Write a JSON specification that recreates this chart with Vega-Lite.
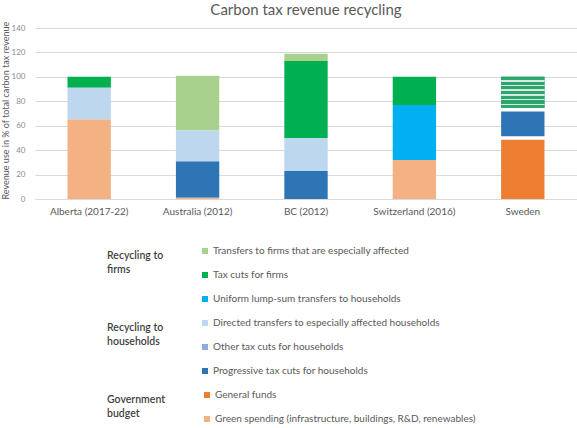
{
  "$schema": "https://vega.github.io/schema/vega-lite/v6.json",
  "width": 542,
  "height": 171,
  "autosize": {"type": "none"},
  "padding": {"left": 35, "top": 28, "right": 0, "bottom": 229},
  "background": "white",
  "config": {
    "view": {"stroke": null},
    "font": "Lato",
    "legend": {
      "orient": "none",
      "titleOrient": "left",
      "titleAnchor": "middle",
      "titleAlign": "left",
      "titleFont": "Lato",
      "titleFontSize": 10.5,
      "titleFontWeight": 600,
      "titleColor": "#3f3f3f",
      "titlePadding": 36,
      "titleLineHeight": 14,
      "labelFont": "Lato",
      "labelFontSize": 10,
      "labelColor": "#595959",
      "labelOffset": 3,
      "labelLimit": 400,
      "symbolType": "square",
      "symbolSize": 36,
      "symbolStrokeWidth": 0,
      "rowPadding": 14
    }
  },
  "title": {
    "text": "Carbon tax revenue recycling",
    "font": "Lato",
    "fontSize": 15,
    "fontWeight": "normal",
    "color": "#595959",
    "anchor": "middle",
    "offset": 3
  },
  "data": {
    "values": [
      {"country": "Alberta (2017-22)", "category": "Green spending (infrastructure, buildings, R&D, renewables)", "group": "budget", "rank": 1, "value": 65},
      {"country": "Alberta (2017-22)", "category": "Directed transfers to especially affected households", "group": "households", "rank": 5, "value": 26},
      {"country": "Alberta (2017-22)", "category": "Tax cuts for firms", "group": "firms", "rank": 7, "value": 9},
      {"country": "Australia (2012)", "category": "Green spending (infrastructure, buildings, R&D, renewables)", "group": "budget", "rank": 1, "value": 1},
      {"country": "Australia (2012)", "category": "Progressive tax cuts for households", "group": "households", "rank": 3, "value": 30},
      {"country": "Australia (2012)", "category": "Directed transfers to especially affected households", "group": "households", "rank": 5, "value": 25},
      {"country": "Australia (2012)", "category": "Transfers to firms that are especially affected", "group": "firms", "rank": 8, "value": 45},
      {"country": "BC (2012)", "category": "Progressive tax cuts for households", "group": "households", "rank": 3, "value": 23},
      {"country": "BC (2012)", "category": "Directed transfers to especially affected households", "group": "households", "rank": 5, "value": 27},
      {"country": "BC (2012)", "category": "Tax cuts for firms", "group": "firms", "rank": 7, "value": 63},
      {"country": "BC (2012)", "category": "Transfers to firms that are especially affected", "group": "firms", "rank": 8, "value": 6},
      {"country": "Switzerland (2016)", "category": "Green spending (infrastructure, buildings, R&D, renewables)", "group": "budget", "rank": 1, "value": 32},
      {"country": "Switzerland (2016)", "category": "Uniform lump-sum transfers to households", "group": "households", "rank": 6, "value": 45},
      {"country": "Switzerland (2016)", "category": "Tax cuts for firms", "group": "firms", "rank": 7, "value": 23},
      {"country": "Sweden", "category": "General funds", "group": "budget", "rank": 2, "value": 50},
      {"country": "Sweden", "category": "Progressive tax cuts for households", "group": "households", "rank": 3, "value": 23},
      {"country": "Sweden", "category": "Tax cuts for firms", "group": "firms", "rank": 7, "value": 27}
    ]
  },
  "transform": [
    {"stack": "value", "groupby": ["country"], "sort": [{"field": "rank", "order": "ascending"}], "as": ["y0", "y1"]}
  ],
  "encoding": {
    "x": {
      "field": "country",
      "type": "nominal",
      "sort": ["Alberta (2017-22)", "Australia (2012)", "BC (2012)", "Switzerland (2016)", "Sweden"],
      "scale": {"paddingInner": 0.6, "paddingOuter": 0.3},
      "axis": {
        "title": null,
        "labelAngle": 0,
        "labelFont": "Lato",
        "labelFontSize": 10,
        "labelColor": "#595959",
        "labelPadding": 7,
        "ticks": false,
        "domainColor": "#d9d9d9"
      }
    },
    "y": {
      "field": "y0",
      "type": "quantitative",
      "scale": {"domain": [0, 140], "nice": false},
      "axis": {
        "title": "Revenue use in % of total carbon tax revenue",
        "titleFont": "Lato",
        "titleFontSize": 9,
        "titleFontWeight": "normal",
        "titleColor": "#595959",
        "titleAnchor": "start",
        "titlePadding": 1,
        "values": [0, 20, 40, 60, 80, 100, 120, 140],
        "labelFont": "Lato",
        "labelFontSize": 8,
        "labelColor": "#8c8c8c",
        "labelPadding": 10,
        "ticks": false,
        "domain": false,
        "gridColor": "#d9d9d9"
      }
    },
    "y2": {"field": "y1"}
  },
  "layer": [
    {
      "transform": [{"filter": "datum.group === 'firms'"}],
      "mark": {"type": "bar"},
      "encoding": {
        "color": {
          "field": "category",
          "type": "nominal",
          "scale": {
            "domain": ["Transfers to firms that are especially affected", "Tax cuts for firms"],
            "range": ["#a9d18e", "#00b050"]
          },
          "legend": {"title": ["Recycling to", "firms"], "legendX": 72, "legendY": 218}
        }
      }
    },
    {
      "transform": [{"filter": "datum.group === 'households'"}],
      "mark": {"type": "bar"},
      "encoding": {
        "color": {
          "field": "category",
          "type": "nominal",
          "scale": {
            "domain": ["Uniform lump-sum transfers to households", "Directed transfers to especially affected households", "Other tax cuts for households", "Progressive tax cuts for households"],
            "range": ["#00b0f0", "#bdd7ee", "#8faadc", "#2e75b6"]
          },
          "legend": {"title": ["Recycling to", "households"], "legendX": 72, "legendY": 266}
        }
      }
    },
    {
      "transform": [{"filter": "datum.group === 'budget'"}],
      "mark": {"type": "bar"},
      "encoding": {
        "color": {
          "field": "category",
          "type": "nominal",
          "scale": {
            "domain": ["General funds", "Green spending (infrastructure, buildings, R&D, renewables)"],
            "range": ["#ed7d31", "#f4b183"]
          },
          "legend": {"title": ["Government", "budget"], "legendX": 72, "legendY": 362}
        }
      }
    },
    {
      "transform": [{"filter": "datum.country === 'Sweden' && datum.category === 'Tax cuts for firms'"}],
      "mark": {
        "type": "bar",
        "color": {
          "gradient": "linear",
          "x1": 0, "y1": 0, "x2": 0, "y2": 1,
          "stops": [
            {"offset": 0, "color": "#2ea56d"}, {"offset": 0.097, "color": "#2ea56d"},
            {"offset": 0.097, "color": "#d3ebe2"}, {"offset": 0.1429, "color": "#d3ebe2"},
            {"offset": 0.1429, "color": "#2ea56d"}, {"offset": 0.24, "color": "#2ea56d"},
            {"offset": 0.24, "color": "#d3ebe2"}, {"offset": 0.2857, "color": "#d3ebe2"},
            {"offset": 0.2857, "color": "#2ea56d"}, {"offset": 0.3829, "color": "#2ea56d"},
            {"offset": 0.3829, "color": "#d3ebe2"}, {"offset": 0.4286, "color": "#d3ebe2"},
            {"offset": 0.4286, "color": "#2ea56d"}, {"offset": 0.5257, "color": "#2ea56d"},
            {"offset": 0.5257, "color": "#d3ebe2"}, {"offset": 0.5714, "color": "#d3ebe2"},
            {"offset": 0.5714, "color": "#2ea56d"}, {"offset": 0.6686, "color": "#2ea56d"},
            {"offset": 0.6686, "color": "#d3ebe2"}, {"offset": 0.7143, "color": "#d3ebe2"},
            {"offset": 0.7143, "color": "#2ea56d"}, {"offset": 0.8114, "color": "#2ea56d"},
            {"offset": 0.8114, "color": "#d3ebe2"}, {"offset": 0.8571, "color": "#d3ebe2"},
            {"offset": 0.8571, "color": "#2ea56d"}, {"offset": 1, "color": "#2ea56d"}
          ]
        }
      },
      "encoding": {}
    },
    {
      "transform": [{"filter": "datum.country === 'Sweden' && datum.y1 < 100"}],
      "mark": {"type": "tick", "color": "white", "opacity": 1, "size": 48, "thickness": 3.5},
      "encoding": {
        "y": {"field": "y1", "type": "quantitative"},
        "y2": null
      }
    }
  ],
  "resolve": {"scale": {"color": "independent"}, "legend": {"color": "independent"}}
}
